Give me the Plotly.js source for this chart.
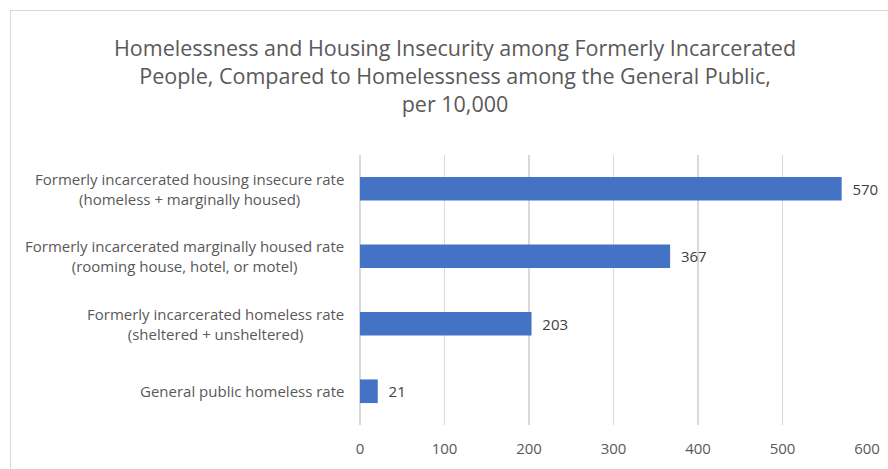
<!DOCTYPE html>
<html>
<head>
<meta charset="utf-8">
<script src="https://cdn.plot.ly/plotly-3.0.1.min.js"></script>
<style>
html,body{margin:0;padding:0;background:#fff;}
#wrap{position:relative;width:888px;height:469px;overflow:hidden;}
#chart{position:absolute;left:0;top:0;width:888px;height:469px;}
#frame{position:absolute;left:10px;top:10px;width:900px;height:500px;border-left:1.5px solid #d9d9d9;border-top:1.5px solid #d9d9d9;pointer-events:none;}
</style>
</head>
<body>
<div id="wrap"><div id="chart"></div><div id="frame"></div></div>
<script>
const titleText = "Homelessness and Housing Insecurity among Formerly Incarcerated<br>People, Compared to Homelessness among the General Public,<br>per 10,000";
const categories = [
  "General public homeless rate",
  "Formerly incarcerated homeless rate<br>(sheltered + unsheltered)",
  "Formerly incarcerated marginally housed rate<br>(rooming house, hotel, or motel)",
  "Formerly incarcerated housing insecure rate<br>(homeless + marginally housed)"
];
const values = [21, 203, 367, 570];
const xTicks = [0, 100, 200, 300, 400, 500, 600];

const FONT = "Open Sans, sans-serif";
const GRAY = "#595959";

const trace = {
  type: "bar",
  orientation: "h",
  y: categories,
  x: values,
  marker: {color: "#4472C4"},
  width: 0.35,
  text: values.map(v => "\u00a0\u00a0" + v),
  textposition: "outside",
  textfont: {family: FONT, size: 15, color: "#404040"},
  cliponaxis: false,
  hoverinfo: "x+y"
};

const annotations = categories.map(c => ({
  xref: "paper", yref: "y",
  x: 0, y: c,
  xanchor: "right", yanchor: "middle",
  xshift: -14,
  align: "center",
  showarrow: false,
  text: c,
  font: {family: FONT, size: 15, color: GRAY}
}));

const layout = {
  width: 888, height: 469,
  paper_bgcolor: "#fff", plot_bgcolor: "#fff",
  margin: {l: 359.5, r: 20.5, t: 155, b: 44, pad: 0},
  title: {
    text: titleText,
    xref: "container", x: 455/888, xanchor: "center",
    yref: "container", y: 1 - 56/469, yanchor: "top",
    font: {family: FONT, size: 21.5, color: GRAY}
  },
  xaxis: {
    range: [0, 600],
    tickvals: xTicks,
    ticktext: xTicks.map(String),
    showgrid: true, gridcolor: "#d9d9d9", gridwidth: 1.5,
    zeroline: true, zerolinecolor: "#d9d9d9", zerolinewidth: 1.5,
    showline: false,
    ticks: "",
    tickfont: {family: FONT, size: 15, color: GRAY},
    ticklabelstandoff: 13,
    fixedrange: true
  },
  yaxis: {
    categoryorder: "array", categoryarray: categories,
    showticklabels: false, showgrid: false, zeroline: false,
    showline: false, ticks: "", fixedrange: true
  },
  annotations: annotations,
  showlegend: false,
  bargap: 0.65
};

Plotly.newPlot("chart", [trace], layout, {displayModeBar: false, staticPlot: true});
</script>
</body>
</html>
